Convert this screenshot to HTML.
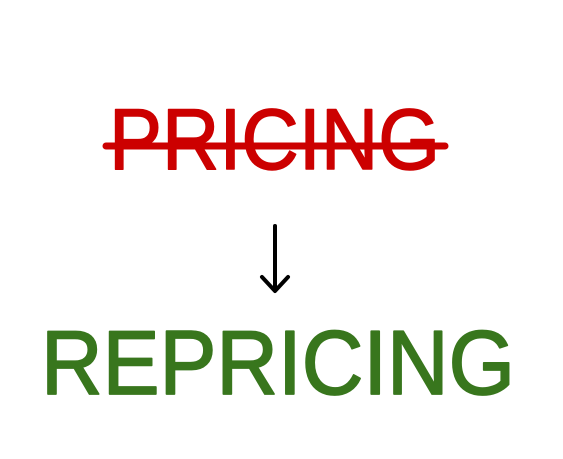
<!DOCTYPE html>
<html>
<head>
<meta charset="utf-8">
<style>
html,body{margin:0;padding:0;background:#fff;width:563px;height:459px;overflow:hidden}
svg{display:block}
text{font-family:"Liberation Sans",sans-serif}
</style>
</head>
<body>
<svg width="563" height="459" viewBox="0 0 563 459">
  <text x="109" y="169" font-size="86" fill="#cc0000" stroke="#cc0000" stroke-width="1.5" stroke-linejoin="round" textLength="331" lengthAdjust="spacingAndGlyphs">PRICING</text>
  <line x1="106" y1="146" x2="445" y2="146" stroke="#cc0000" stroke-width="7" stroke-linecap="round"/>
  <g stroke="#000" stroke-width="4" stroke-linecap="round" stroke-linejoin="round" fill="none">
    <line x1="275" y1="226" x2="275" y2="290"/>
    <polyline points="262,277 275,291 288,277"/>
  </g>
  <text x="41" y="394" font-size="91" fill="#38761d" stroke="#38761d" stroke-width="1.8" stroke-linejoin="round" textLength="474" lengthAdjust="spacingAndGlyphs">REPRICING</text>
</svg>
</body>
</html>
